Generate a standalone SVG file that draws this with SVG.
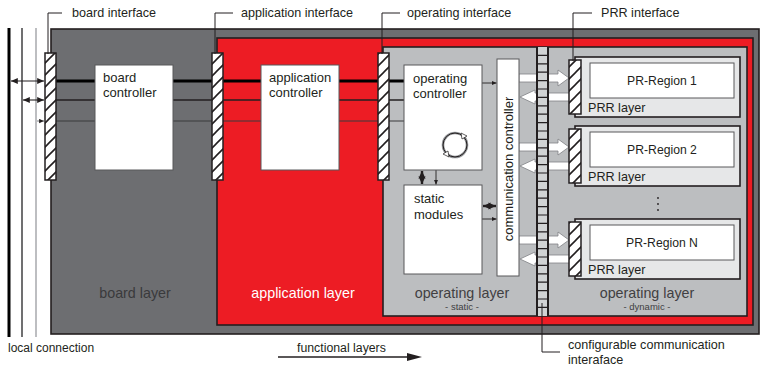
<svg xmlns="http://www.w3.org/2000/svg" width="760" height="366" viewBox="0 0 760 366">
<style>
text{font-family:"Liberation Sans",Arial,sans-serif;fill:#231f20}
.lbl{font-size:12.6px}
.nt{font-size:13px}
.lt{font-size:14.3px}
.sm{font-size:9.5px}
.pr{font-size:12.2px}
.layer{stroke:#231f20;stroke-width:1.6}
.box{fill:#fff;stroke:#58595b;stroke-width:1}
.bar{fill:url(#hatch);stroke:#231f20;stroke-width:1.5}
.lead{fill:none;stroke:#231f20;stroke-width:1}
.bus1{stroke:#000;stroke-width:3;fill:none}
.bus2{stroke:#231f20;stroke-width:1.7;fill:none}
.bus3{stroke:#3a3a3c;stroke-width:1;fill:none}
.dbl{stroke:#231f20;stroke-width:1.1;fill:none;marker-start:url(#ah);marker-end:url(#ah)}
.dblb{stroke:#231f20;stroke-width:2.4;fill:none;marker-start:url(#ahb);marker-end:url(#ahb)}
.one{stroke:#231f20;stroke-width:0.9;fill:none;marker-end:url(#ahs)}
.tiny{stroke:#231f20;stroke-width:0.8;fill:none;marker-start:url(#aht);marker-end:url(#aht)}
.warr{fill:#fff;stroke:#808285;stroke-width:0.8}
.prr{fill:#e6e7e8;stroke:#231f20;stroke-width:1.6}
</style>
<defs>
<pattern id="hatch" patternUnits="userSpaceOnUse" width="12" height="12">
<rect width="12" height="12" fill="#fff"/>
<path d="M-1,1 L1,-1 M0,12 L12,0 M11,13 L13,11" stroke="#231f20" stroke-width="1.6"/>
</pattern>
<marker id="ah" viewBox="0 0 8 8" refX="7.8" refY="4" markerWidth="7" markerHeight="7" markerUnits="userSpaceOnUse" orient="auto-start-reverse"><path d="M0,0.6 L8,4 L0,7.4 z" fill="#231f20"/></marker>
<marker id="ahb" viewBox="0 0 8 8" refX="7.8" refY="4" markerWidth="8" markerHeight="8" markerUnits="userSpaceOnUse" orient="auto-start-reverse"><path d="M0,0.4 L8,4 L0,7.6 L1.5,4 z" fill="#231f20"/></marker>
<marker id="ahs" viewBox="0 0 8 8" refX="7.8" refY="4" markerWidth="5" markerHeight="5" markerUnits="userSpaceOnUse" orient="auto-start-reverse"><path d="M0,0.6 L8,4 L0,7.4 z" fill="#231f20"/></marker>
<marker id="aht" viewBox="0 0 8 8" refX="7.8" refY="4" markerWidth="3.5" markerHeight="3.5" markerUnits="userSpaceOnUse" orient="auto-start-reverse"><path d="M0,0 L8,4 L0,8 z" fill="#231f20"/></marker>
</defs>

<g id="layers">
<rect id="board-layer" class="layer" x="51" y="29" width="708" height="305" fill="#6d6e71"/>
<rect id="application-layer" class="layer" x="217" y="38" width="536" height="287" fill="#ed1c24"/>
<rect id="operating-layer" class="layer" x="383" y="47" width="364" height="269" fill="#bcbec0"/>
</g>

<g id="local-connection">
<line x1="9" y1="28" x2="9" y2="337" stroke="#000" stroke-width="3"/>
<line x1="22" y1="28" x2="22" y2="337" stroke="#414042" stroke-width="1.5"/>
<line x1="36" y1="28" x2="36" y2="337" stroke="#a7a9ac" stroke-width="1.5"/>
</g>

<g id="connectors">
<path class="bus1" d="M56,81 H404"/>
<path class="bus2" d="M56,100 H404"/>
<path class="bus3" d="M56,121 H404"/>
<line class="dbl" x1="11" y1="81" x2="44" y2="81"/>
<line class="dbl" x1="23" y1="100" x2="44" y2="100"/>
<line x1="37" y1="121" x2="44" y2="121" stroke="#808285" stroke-width="1" marker-end="url(#ahs)"/>
<line class="dblb" x1="422" y1="171" x2="422" y2="184"/>
<line class="one" x1="436" y1="170" x2="436" y2="184.5"/>
<line class="one" x1="482" y1="83" x2="496.5" y2="83"/>
<line class="dblb" x1="483" y1="206" x2="496" y2="206"/>
<line class="one" x1="482" y1="219" x2="496.5" y2="219"/>
<polygon class="warr" points="519,74 558,74 558,70 569,78 558,86 558,82 519,82"/>
<polygon class="warr" points="570,93 535,93 535,90 520,97 535,104 535,101 570,101"/>
<polygon class="warr" points="519,143 558,143 558,139 569,147 558,155 558,151 519,151"/>
<polygon class="warr" points="570,162 535,162 535,159 520,166 535,173 535,170 570,170"/>
<polygon class="warr" points="519,236 558,236 558,232 569,240 558,248 558,244 519,244"/>
<polygon class="warr" points="570,255 535,255 535,252 520,259 535,266 535,263 570,263"/>
<line class="tiny" x1="582.5" y1="72" x2="589" y2="72"/>
<line class="tiny" x1="582.5" y1="85" x2="589" y2="85"/>
<line class="tiny" x1="582.5" y1="141" x2="589" y2="141"/>
<line class="tiny" x1="582.5" y1="154" x2="589" y2="154"/>
<line class="tiny" x1="582.5" y1="234" x2="589" y2="234"/>
<line class="tiny" x1="582.5" y1="247" x2="589" y2="247"/>
<line x1="278" y1="357" x2="410" y2="357" stroke="#231f20" stroke-width="1.3"/>
<polygon points="407,353 422,357 407,361" fill="#231f20"/>
</g>

<g id="board-interface"><rect class="bar" x="45" y="53" width="11" height="127"/></g>
<g id="application-interface"><rect class="bar" x="212" y="53" width="11" height="127"/></g>
<g id="operating-interface"><rect class="bar" x="378" y="53" width="11" height="127"/></g>

<g id="board-controller">
<rect class="box" x="95" y="65" width="78" height="105"/>
<text class="nt" x="103" y="82">board</text>
<text class="nt" x="103" y="97">controller</text>
</g>
<g id="application-controller">
<rect class="box" x="261" y="65" width="78" height="105"/>
<text class="nt" x="269" y="82">application</text>
<text class="nt" x="269" y="97">controller</text>
</g>
<g id="operating-controller">
<rect class="box" x="404" y="65" width="78" height="105"/>
<text class="nt" x="413" y="83">operating</text>
<text class="nt" x="413" y="98">controller</text>
<circle cx="455" cy="145" r="12" fill="none" stroke="#939598" stroke-width="2.6"/>
<circle cx="455" cy="145" r="12" fill="none" stroke="#231f20" stroke-width="1"/>
<polygon points="461,133 467,136 462,139" fill="#fff" stroke="#231f20" stroke-width="0.7"/>
<polygon points="449,157 443,154 448,151" fill="#fff" stroke="#231f20" stroke-width="0.7"/>
</g>
<g id="static-modules">
<rect class="box" x="404" y="185" width="78" height="89"/>
<text class="nt" x="414" y="203">static</text>
<text class="nt" x="414" y="219">modules</text>
</g>
<g id="communication-controller">
<rect class="box" x="497" y="59" width="22" height="217"/>
<text class="nt" transform="translate(512.5,169) rotate(-90)" text-anchor="middle">communication controller</text>
</g>

<g id="configurable-communication-interface">
<rect x="537" y="47" width="11" height="269" fill="#d1d3d4"/>
<path d="M537,55.4h11M537,63.8h11M537,72.2h11M537,80.6h11M537,89h11M537,97.4h11M537,105.8h11M537,114.2h11M537,122.6h11M537,131h11M537,139.4h11M537,147.8h11M537,156.2h11M537,164.6h11M537,173h11M537,181.4h11M537,189.8h11M537,198.2h11M537,206.6h11M537,215h11M537,223.4h11M537,231.8h11M537,240.2h11M537,248.6h11M537,257h11M537,265.4h11M537,273.8h11M537,282.2h11M537,290.6h11M537,299h11M537,307.4h11" stroke="#231f20" stroke-width="1.2" fill="none"/>
<path d="M537,47V316M548,47V316" stroke="#231f20" stroke-width="2" fill="none"/>
</g>

<g id="prr-1">
<rect class="prr" x="575" y="57" width="165" height="60"/>
<rect class="box" x="590" y="63" width="144" height="35"/>
<text class="pr" x="662" y="85" text-anchor="middle">PR-Region 1</text>
<text class="lbl" x="588" y="112">PRR layer</text>
<rect class="bar" x="569" y="60" width="12" height="54"/>
</g>
<g id="prr-2">
<rect class="prr" x="575" y="126" width="165" height="60"/>
<rect class="box" x="590" y="132" width="144" height="35"/>
<text class="pr" x="662" y="154" text-anchor="middle">PR-Region 2</text>
<text class="lbl" x="588" y="181">PRR layer</text>
<rect class="bar" x="569" y="129" width="12" height="54"/>
</g>
<g id="prr-n">
<rect class="prr" x="575" y="219" width="165" height="60"/>
<rect class="box" x="590" y="225" width="144" height="35"/>
<text class="pr" x="662" y="247" text-anchor="middle">PR-Region N</text>
<text class="lbl" x="588" y="274">PRR layer</text>
<rect class="bar" x="569" y="222" width="12" height="54"/>
</g>
<g id="ellipsis" fill="#231f20">
<circle cx="658" cy="198" r="0.9"/>
<circle cx="658" cy="204" r="0.9"/>
<circle cx="658" cy="210" r="0.9"/>
</g>

<g id="layer-labels">
<text class="lt" x="135" y="298" text-anchor="middle" style="fill:#3a3a3c">board layer</text>
<text class="lt" x="303" y="298" text-anchor="middle" style="fill:#fff">application layer</text>
<text class="lt" x="462" y="298" text-anchor="middle" style="fill:#414042">operating layer</text>
<text class="sm" x="462" y="310" text-anchor="middle" style="fill:#414042">- static -</text>
<text class="lt" x="647" y="298" text-anchor="middle" style="fill:#414042">operating layer</text>
<text class="sm" x="647" y="310" text-anchor="middle" style="fill:#414042">- dynamic -</text>
</g>

<g id="annotations">
<path class="lead" d="M48,54 V13 H62"/>
<text class="lbl" x="72" y="17">board interface</text>
<path class="lead" d="M215,54 V13 H233"/>
<text class="lbl" x="241" y="17">application interface</text>
<path class="lead" d="M382,54 V13 H400"/>
<text class="lbl" x="407" y="17">operating interface</text>
<path class="lead" d="M573,61 V13 H592"/>
<text class="lbl" x="601" y="17">PRR interface</text>
<path class="lead" d="M542,303 V352 H560"/>
<text class="lbl" x="568" y="349">configurable communication</text>
<text class="lbl" x="568" y="364">interaface</text>
<text class="lbl" x="8" y="352" style="font-size:12px">local connection</text>
<text class="lbl" x="297" y="352" style="font-size:12.3px">functional layers</text>
</g>
</svg>
